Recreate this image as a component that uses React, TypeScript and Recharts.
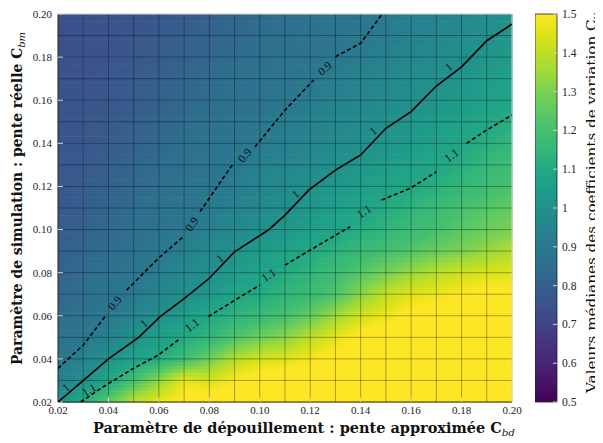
import React from "react";
import {
  ScatterChart,
  Scatter,
  XAxis,
  YAxis,
  ReferenceArea,
  ReferenceLine,
} from "recharts";

// grid nodes (pente approximée C_bd on x, pente réelle C_bm on y)
const cbdNodes = [0.02, 0.03, 0.04, 0.05, 0.06, 0.07, 0.08, 0.09, 0.1, 0.11, 0.12, 0.13, 0.14, 0.15, 0.16, 0.17, 0.18, 0.19, 0.2];
const cbmNodes = [0.02, 0.03, 0.04, 0.05, 0.06, 0.07, 0.08, 0.09, 0.1, 0.11, 0.12, 0.13, 0.14, 0.15, 0.16, 0.17, 0.18, 0.19, 0.2];
const axisTicks = [0.02, 0.04, 0.06, 0.08, 0.1, 0.12, 0.14, 0.16, 0.18, 0.2];
const gridSteps = [0.03, 0.04, 0.05, 0.06, 0.07, 0.08, 0.09, 0.1, 0.11, 0.12, 0.13, 0.14, 0.15, 0.16, 0.17, 0.18, 0.19];
const colorbarTicks = [0.5, 0.6, 0.7, 0.8, 0.9, 1, 1.1, 1.2, 1.3, 1.4, 1.5];

// median Cv, one row per C_bm value, read left to right along C_bd
const cvAtBm002 = [1.0, 1.12, 1.25, 1.4, 1.47, 1.52, 1.55, 1.55, 1.55, 1.55, 1.55, 1.55, 1.55, 1.55, 1.55, 1.55, 1.55, 1.55, 1.55];
const cvAtBm003 = [0.93, 0.99, 1.09, 1.2, 1.33, 1.47, 1.43, 1.5, 1.55, 1.55, 1.55, 1.55, 1.55, 1.55, 1.55, 1.55, 1.55, 1.55, 1.55];
const cvAtBm004 = [0.88, 0.94, 0.995, 1.06, 1.11, 1.18, 1.28, 1.38, 1.43, 1.45, 1.48, 1.52, 1.55, 1.55, 1.55, 1.55, 1.55, 1.55, 1.55];
const cvAtBm005 = [0.86, 0.89, 0.94, 1.0, 1.05, 1.1, 1.14, 1.22, 1.28, 1.32, 1.4, 1.46, 1.52, 1.55, 1.55, 1.55, 1.55, 1.55, 1.55];
const cvAtBm006 = [0.84, 0.87, 0.9, 0.95, 0.995, 1.04, 1.1, 1.13, 1.16, 1.2, 1.26, 1.35, 1.43, 1.47, 1.52, 1.55, 1.55, 1.55, 1.55];
const cvAtBm007 = [0.82, 0.85, 0.88, 0.9, 0.95, 0.99, 1.03, 1.09, 1.11, 1.14, 1.17, 1.22, 1.32, 1.41, 1.45, 1.47, 1.5, 1.52, 1.52];
const cvAtBm008 = [0.81, 0.84, 0.86, 0.89, 0.92, 0.96, 0.995, 1.04, 1.07, 1.11, 1.14, 1.18, 1.23, 1.29, 1.34, 1.39, 1.42, 1.44, 1.45];
const cvAtBm009 = [0.8, 0.82, 0.84, 0.86, 0.9, 0.93, 0.97, 1.0, 1.04, 1.07, 1.1, 1.13, 1.16, 1.2, 1.23, 1.27, 1.3, 1.34, 1.38];
const cvAtBm010 = [0.79, 0.81, 0.83, 0.85, 0.87, 0.9, 0.93, 0.96, 0.995, 1.025, 1.055, 1.085, 1.115, 1.14, 1.17, 1.2, 1.24, 1.27, 1.3];
const cvAtBm011 = [0.78, 0.8, 0.82, 0.84, 0.86, 0.88, 0.91, 0.94, 0.965, 0.99, 1.02, 1.05, 1.08, 1.11, 1.14, 1.17, 1.2, 1.23, 1.26];
const cvAtBm012 = [0.77, 0.79, 0.81, 0.83, 0.85, 0.87, 0.89, 0.92, 0.95, 0.97, 0.995, 1.02, 1.05, 1.07, 1.095, 1.12, 1.15, 1.18, 1.21];
const cvAtBm013 = [0.77, 0.78, 0.8, 0.82, 0.84, 0.86, 0.88, 0.9, 0.93, 0.95, 0.97, 0.995, 1.02, 1.045, 1.07, 1.09, 1.12, 1.15, 1.18];
const cvAtBm014 = [0.76, 0.77, 0.79, 0.81, 0.83, 0.85, 0.87, 0.885, 0.905, 0.93, 0.95, 0.97, 0.99, 1.015, 1.04, 1.065, 1.09, 1.12, 1.15];
const cvAtBm015 = [0.76, 0.77, 0.78, 0.8, 0.82, 0.84, 0.86, 0.875, 0.895, 0.915, 0.935, 0.955, 0.975, 0.995, 1.02, 1.04, 1.065, 1.09, 1.115];
const cvAtBm016 = [0.75, 0.76, 0.77, 0.79, 0.81, 0.83, 0.845, 0.86, 0.875, 0.89, 0.915, 0.935, 0.955, 0.975, 0.99, 1.01, 1.035, 1.06, 1.085];
const cvAtBm017 = [0.75, 0.76, 0.77, 0.78, 0.8, 0.82, 0.835, 0.85, 0.865, 0.88, 0.898, 0.92, 0.94, 0.96, 0.98, 0.998, 1.02, 1.04, 1.065];
const cvAtBm018 = [0.74, 0.75, 0.76, 0.775, 0.79, 0.81, 0.825, 0.84, 0.855, 0.87, 0.88, 0.895, 0.915, 0.935, 0.955, 0.975, 0.995, 1.02, 1.04];
const cvAtBm019 = [0.74, 0.75, 0.755, 0.765, 0.78, 0.8, 0.815, 0.83, 0.845, 0.855, 0.87, 0.885, 0.898, 0.915, 0.935, 0.955, 0.975, 0.995, 1.015];
const cvAtBm020 = [0.74, 0.745, 0.75, 0.76, 0.77, 0.79, 0.805, 0.82, 0.835, 0.85, 0.86, 0.875, 0.89, 0.905, 0.925, 0.945, 0.96, 0.98, 0.995];

const cvRows = [
  cvAtBm002, cvAtBm003, cvAtBm004, cvAtBm005, cvAtBm006, cvAtBm007, cvAtBm008,
  cvAtBm009, cvAtBm010, cvAtBm011, cvAtBm012, cvAtBm013, cvAtBm014, cvAtBm015,
  cvAtBm016, cvAtBm017, cvAtBm018, cvAtBm019, cvAtBm020,
];

// contour lines, split where the inline labels sit
const contourOne = [
  [{ x: 0.02, y: 0.02 }, { x: 0.031, y: 0.031 }, { x: 0.04, y: 0.04 }, { x: 0.052, y: 0.05 }, { x: 0.0605, y: 0.0596 }, { x: 0.07, y: 0.068 }, { x: 0.08, y: 0.0774 }, { x: 0.09, y: 0.0897 }, { x: 0.1034, y: 0.0998 }, { x: 0.11, y: 0.1067 }, { x: 0.1194, y: 0.1183 }, { x: 0.13, y: 0.1276 }, { x: 0.14, y: 0.1346 }, { x: 0.15, y: 0.147 }, { x: 0.16, y: 0.1547 }, { x: 0.17, y: 0.1666 }, { x: 0.18, y: 0.1755 }, { x: 0.19, y: 0.1876 }, { x: 0.2, y: 0.1953 }],
];
const contourNine = [
  [{ x: 0.02, y: 0.0356 }, { x: 0.03, y: 0.0464 }, { x: 0.0386, y: 0.0596 }],
  [{ x: 0.0472, y: 0.0719 }, { x: 0.0598, y: 0.0867 }, { x: 0.0697, y: 0.0967 }],
  [{ x: 0.0763, y: 0.1083 }, { x: 0.0895, y: 0.1307 }],
  [{ x: 0.0981, y: 0.1384 }, { x: 0.11, y: 0.1554 }, { x: 0.1214, y: 0.1694 }],
  [{ x: 0.13, y: 0.1802 }, { x: 0.14, y: 0.1864 }, { x: 0.1485, y: 0.2 }],
];
const contourEleven = [
  [{ x: 0.029, y: 0.02 }, { x: 0.038, y: 0.0271 }, { x: 0.0499, y: 0.0356 }, { x: 0.0598, y: 0.0418 }, { x: 0.0677, y: 0.0488 }],
  [{ x: 0.0796, y: 0.0596 }, { x: 0.0902, y: 0.0673 }, { x: 0.1001, y: 0.0743 }],
  [{ x: 0.11, y: 0.0835 }, { x: 0.12, y: 0.0905 }, { x: 0.1358, y: 0.1013 }],
  [{ x: 0.1483, y: 0.1137 }, { x: 0.1596, y: 0.1191 }, { x: 0.1701, y: 0.1268 }],
  [{ x: 0.182, y: 0.14 }, { x: 0.19, y: 0.1462 }, { x: 0.2, y: 0.1531 }],
];

const labelsOne = [
  { x: 0.0231, y: 0.0268, text: "1" },
  { x: 0.0541, y: 0.0565, text: "1" },
  { x: 0.0842, y: 0.0867, text: "1" },
  { x: 0.1142, y: 0.1165, text: "1" },
  { x: 0.1449, y: 0.1458, text: "1" },
  { x: 0.1749, y: 0.1755, text: "1" },
];
const labelsNine = [
  { x: 0.0425, y: 0.066, text: "0.9" },
  { x: 0.073, y: 0.1025, text: "0.9" },
  { x: 0.094, y: 0.1345, text: "0.9" },
  { x: 0.1257, y: 0.1748, text: "0.9" },
];
const labelsEleven = [
  { x: 0.0323, y: 0.0256, text: "1.1" },
  { x: 0.0731, y: 0.0557, text: "1.1" },
  { x: 0.1035, y: 0.0789, text: "1.1" },
  { x: 0.1413, y: 0.1084, text: "1.1" },
  { x: 0.176, y: 0.1345, text: "1.1" },
];
const tiltOne = [-40, -40, -40, -40, -40, -40];
const tiltNine = [-51, -55, -50, -42];
const tiltEleven = [-31, -37, -34, -32, -37];

// viridis, 21 stops
const viridis = [
  "#440154", "#471365", "#482475", "#46337e", "#414487", "#3b528b", "#355f8d",
  "#2e6f8e", "#2a788e", "#25858e", "#21918c", "#1f9e89", "#22a884", "#35b779",
  "#44bf70", "#5ec962", "#7ad151", "#a0da39", "#bddf26", "#dfe318", "#fde725",
];

const SERIF = "'Liberation Serif', 'DejaVu Serif', serif";
const CV_MIN = 0.5;
const CV_MAX = 1.5;

const hexRgb = (h: string) => [
  parseInt(h.slice(1, 3), 16),
  parseInt(h.slice(3, 5), 16),
  parseInt(h.slice(5, 7), 16),
];

const viridisColor = (v: number) => {
  const t = Math.min(1, Math.max(0, (v - CV_MIN) / (CV_MAX - CV_MIN)));
  const pos = t * (viridis.length - 1);
  const k = Math.min(viridis.length - 2, Math.floor(pos));
  const f = pos - k;
  const a = hexRgb(viridis[k]);
  const b = hexRgb(viridis[k + 1]);
  const c = a.map((av, n) => Math.round(av + (b[n] - av) * f));
  return `rgb(${c[0]},${c[1]},${c[2]})`;
};

// gouraud-like shading of one cell between four nodes
const STRIPS = 6;
const ShadedCell = (props: any) => {
  const { x, y, width, height, i, j } = props;
  const bl = cvRows[j][i];
  const br = cvRows[j][i + 1];
  const tl = cvRows[j + 1][i];
  const tr = cvRows[j + 1][i + 1];
  const h = height / STRIPS;
  const out: React.ReactNode[] = [];
  for (let k = 0; k < STRIPS; k++) {
    const t = (k + 0.5) / STRIPS;
    const left = tl + (bl - tl) * t;
    const right = tr + (br - tr) * t;
    const id = `cv-${i}-${j}-${k}`;
    out.push(
      <linearGradient key={id + "g"} id={id} x1="0" y1="0" x2="1" y2="0">
        <stop offset="0" stopColor={viridisColor(left)} />
        <stop offset="0.5" stopColor={viridisColor((left + right) / 2)} />
        <stop offset="1" stopColor={viridisColor(right)} />
      </linearGradient>
    );
    out.push(
      <rect key={id + "r"} x={x} y={y + k * h} width={width + 0.6} height={h + 0.6} fill={`url(#${id})`} />
    );
  }
  return <g>{out}</g>;
};

const NoMarker = () => <g />;

const makeLabel = (tilts: number[]) => (p: any) => {
  const { cx, cy, payload, index } = p;
  const idx = typeof index === "number" ? index : 0;
  const a = tilts[idx] ?? -40;
  return (
    <text
      x={cx}
      y={cy}
      transform={`rotate(${a} ${cx} ${cy})`}
      textAnchor="middle"
      dominantBaseline="central"
      fontFamily={SERIF}
      fontSize={11.5}
      fill="#111"
    >
      {payload.text}
    </text>
  );
};

const ColorbarRect = (props: any) => {
  const { x, y, width, height } = props;
  return (
    <g>
      <defs>
        <linearGradient id="cvBar" x1="0" y1="1" x2="0" y2="0">
          {viridis.map((c, n) => (
            <stop key={n} offset={n / (viridis.length - 1)} stopColor={c} />
          ))}
        </linearGradient>
      </defs>
      <rect x={x} y={y} width={width} height={height} fill="url(#cvBar)" stroke="#222" strokeWidth={0.8} />
    </g>
  );
};

const cells: { i: number; j: number }[] = [];
for (let j = 0; j < cbmNodes.length - 1; j++) {
  for (let i = 0; i < cbdNodes.length - 1; i++) cells.push({ i, j });
}

// anchors for the colorbar axis (not drawn)
const colorbarAnchors = colorbarTicks.map((v) => ({ x: 0.5, y: v }));

const lineSolid = { stroke: "#000", strokeWidth: 1.6 };
const lineDashed = { stroke: "#000", strokeWidth: 1.6, strokeDasharray: "4 2.6" };

export default function App() {
  return (
    <div style={{ position: "relative", width: 595, height: 435 }}>
      <ScatterChart width={595} height={435} margin={{ top: 6, right: 91, bottom: 16, left: 10 }}>
        {cells.map(({ i, j }) => (
          <ReferenceArea
            key={`c${i}-${j}`}
            x1={cbdNodes[i]}
            x2={cbdNodes[i + 1]}
            y1={cbmNodes[j]}
            y2={cbmNodes[j + 1]}
            shape={(p: any) => <ShadedCell {...p} i={i} j={j} />}
          />
        ))}
        {gridSteps.map((g) => (
          <ReferenceLine key={`gx${g}`} x={g} stroke="#000" strokeOpacity={0.32} strokeWidth={1} />
        ))}
        {gridSteps.map((g) => (
          <ReferenceLine key={`gy${g}`} y={g} stroke="#000" strokeOpacity={0.32} strokeWidth={1} />
        ))}
        <ReferenceLine x={0.2} stroke="#cfcfcf" strokeWidth={1} />
        <ReferenceLine y={0.2} stroke="#cfcfcf" strokeWidth={1} />
        {contourOne.map((seg, n) => (
          <Scatter key={`one${n}`} data={seg} fill="#000" line={lineSolid} shape={NoMarker} isAnimationActive={false} />
        ))}
        {contourNine.map((seg, n) => (
          <Scatter key={`nine${n}`} data={seg} fill="#000" line={lineDashed} shape={NoMarker} isAnimationActive={false} />
        ))}
        {contourEleven.map((seg, n) => (
          <Scatter key={`eleven${n}`} data={seg} fill="#000" line={lineDashed} shape={NoMarker} isAnimationActive={false} />
        ))}
        <Scatter data={labelsOne} shape={makeLabel(tiltOne)} isAnimationActive={false} />
        <Scatter data={labelsNine} shape={makeLabel(tiltNine)} isAnimationActive={false} />
        <Scatter data={labelsEleven} shape={makeLabel(tiltEleven)} isAnimationActive={false} />
        <XAxis
          type="number"
          dataKey="x"
          domain={[0.02, 0.2]}
          allowDataOverflow
          ticks={axisTicks}
          tickFormatter={(v: number) => v.toFixed(2)}
          height={25}
          tickSize={-5}
          tickMargin={9}
          tickLine={{ stroke: "#d6d6d6" }}
          axisLine={{ stroke: "#222" }}
          tick={{ fill: "#222", fontSize: 11, fontFamily: SERIF }}
        />
        <YAxis
          type="number"
          dataKey="y"
          domain={[0.02, 0.2]}
          allowDataOverflow
          ticks={axisTicks}
          tickFormatter={(v: number) => v.toFixed(2)}
          width={40}
          tickSize={-5}
          tickMargin={11}
          tickLine={{ stroke: "#d6d6d6" }}
          axisLine={{ stroke: "#222" }}
          tick={{ fill: "#222", fontSize: 11, fontFamily: SERIF }}
        />
      </ScatterChart>

      <div style={{ position: "absolute", left: 527, top: 0, width: 68, height: 435 }}>
        <ScatterChart width={68} height={435} margin={{ top: 6, right: 16, bottom: 41, left: 0 }}>
          <ReferenceArea
            x1={0}
            x2={1}
            y1={CV_MIN}
            y2={CV_MAX}
            ifOverflow="visible"
            shape={(p: any) => <ColorbarRect {...p} />}
          />
          <Scatter data={colorbarAnchors} shape={NoMarker} isAnimationActive={false} />
          <XAxis type="number" dataKey="x" domain={[0, 1]} allowDataOverflow hide />
          <YAxis
            type="number"
            dataKey="y"
            orientation="right"
            domain={[CV_MIN, CV_MAX]}
            allowDataOverflow
            ticks={colorbarTicks}
            tickFormatter={(v: number) => (v === 1 ? "1" : v.toFixed(1))}
            width={30}
            tickSize={-4}
            tickMargin={9}
            tickLine={{ stroke: "#cfcfcf" }}
            axisLine={false}
            tick={{ fill: "#222", fontSize: 11.5, fontFamily: SERIF }}
          />
        </ScatterChart>
      </div>

      <svg
        width={595}
        height={435}
        style={{ position: "absolute", left: 0, top: 0, pointerEvents: "none", overflow: "visible" }}
      >
        <text
          x={85}
          y={425}
          fontFamily="'DejaVu Serif', serif"
          fontWeight="bold"
          fontSize={14}
          fill="#111"
          textLength={422}
          lengthAdjust="spacingAndGlyphs"
        >
          Paramètre de dépouillement : pente approximée C
          <tspan fontStyle="italic" fontWeight="normal" fontSize={10} dy={3}>bd</tspan>
        </text>
        <text
          transform="translate(13.5,357) rotate(-90)"
          x={0}
          y={0}
          fontFamily="'DejaVu Serif', serif"
          fontWeight="bold"
          fontSize={14}
          fill="#111"
          textLength={333}
          lengthAdjust="spacingAndGlyphs"
        >
          Paramètre de simulation : pente réelle C
          <tspan fontStyle="italic" fontWeight="normal" fontSize={10} dy={3}>bm</tspan>
        </text>
        <text
          transform="translate(588,385) rotate(-90)"
          x={0}
          y={0}
          fontFamily="'DejaVu Serif', serif"
          fontSize={13}
          fill="#111"
          textLength={380}
          lengthAdjust="spacingAndGlyphs"
        >
          Valeurs médianes des coefficients de variation C
          <tspan fontStyle="italic" fontSize={9.5} dy={3}>v</tspan>
        </text>
      </svg>
    </div>
  );
}
